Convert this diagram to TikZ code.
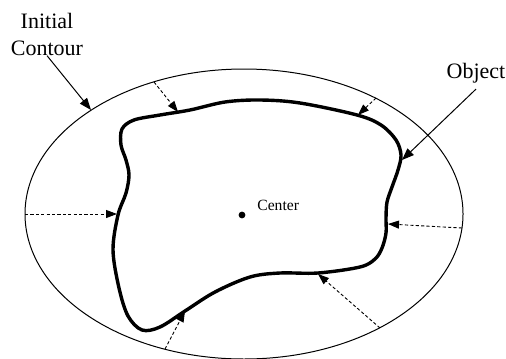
\documentclass[tikz,border=0pt]{standalone}
\usepackage{fontspec}
\setmainfont{Liberation Serif}
\usetikzlibrary{arrows.meta}
\tikzset{
  push/.style={-{Triangle[length=5.5pt,width=4pt]}, line width=0.45pt, dash pattern=on 1.6pt off 1.1pt},
  callout/.style={-{Triangle[length=6pt,width=4.5pt]}, line width=0.5pt},
  lbl/.style={font=\fontsize{11}{13.5}\selectfont, inner sep=0pt, align=center},
}

\begin{document}
\begin{tikzpicture}[x=0.5pt, y=-0.5pt]
\useasboundingbox (0,0) rectangle (506,358);

% --- initial contour ---
\draw[line width=0.5pt] (244,214) ellipse [x radius=219, y radius=145];

% --- object ---
\draw[line width=1.7pt, line join=round] plot[smooth cycle, tension=0.55] coordinates {
  (122,129) (134,120) (160,115) (190,110) (225,102) (260,100) (300,103)
  (357,115) (381,125) (396,140) (401,155) (398,170) (392,187) (387,202)
  (386,218) (386,233) (382,248) (375,259) (360,267) (318,273) (280,273)
  (250,277) (215,292) (185,311) (160,327) (142,330) (128,316) (119,288)
  (113,250) (118,215) (126,193) (129,175) (126,160) (121,145)};

% --- points on both contours ---
\foreach \n/\x/\y in {e1/154/82, e2/376/98, e3/25/214, e4/462/228,
                      e5/380/328, e6/165/349, eA/91/110}
  \coordinate (\n) at (\x,\y);
\foreach \n/\x/\y in {c1/178/112, c2/358/115, c3/117/214, c4/388/224,
                      c5/318/274, c6/185/311, oT/402/160}
  \coordinate (\n) at (\x,\y);

% --- center ---
\node[circle, fill, inner sep=0pt, minimum size=3.4pt] (ctr) at (242,215) {};
\node[anchor=base west, font=\fontsize{7.8}{9}\selectfont, inner sep=0pt] (ctrlbl) at (257,210) {Center};

% --- labels ---
\node[lbl] (init) at (47,34) {Initial\\Contour};
\node[lbl, anchor=base, inner sep=3pt] (obj) at (476,78) {Object};
\draw[callout] (init.south) -- (eA);
\draw[callout] (obj.south) -- (oT);

% --- shrinking ---
\foreach \e/\c in {e1/c1, e2/c2, e3/c3, e4/c4, e5/c5, e6/c6}
  \draw[push] (\e) -- (\c);
\end{tikzpicture}
\end{document}
